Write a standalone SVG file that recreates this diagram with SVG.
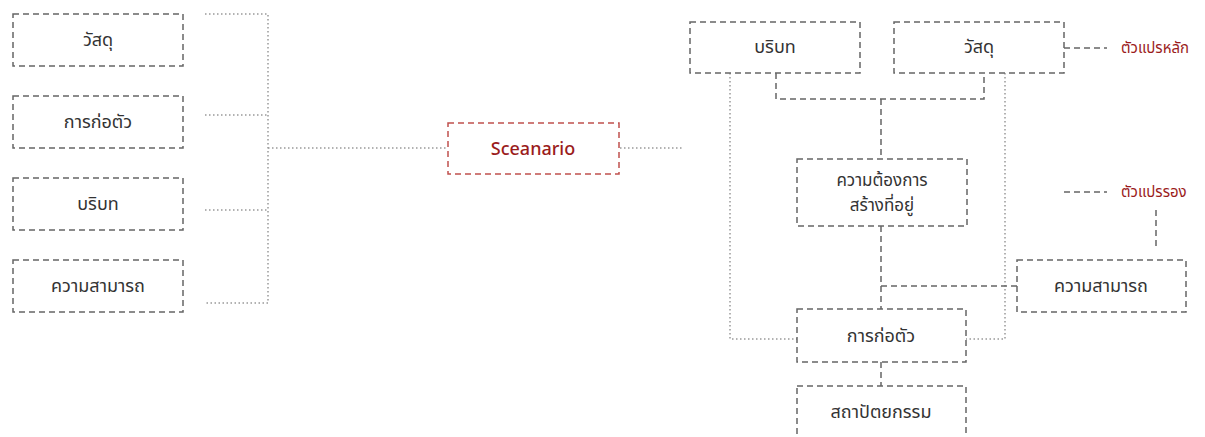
<svg xmlns="http://www.w3.org/2000/svg" width="1205" height="437" viewBox="0 0 1205 437">
<style>
.box{fill:#fff;stroke:#666;stroke-width:1.5;stroke-dasharray:6 4}
.rbox{fill:#fff;stroke:#c0504d;stroke-width:1.5;stroke-dasharray:6 4}
.t{font-family:"Noto Sans Thai","Noto Sans","DejaVu Sans",sans-serif;font-size:18px;fill:#333;text-anchor:middle;dominant-baseline:central}
.t2{font-size:17px}
.rt{font-family:"Noto Sans","DejaVu Sans",sans-serif;font-size:18px;font-weight:500;fill:#9b1c1c;text-anchor:middle;dominant-baseline:central}
.lt{font-family:"Noto Sans Thai","Noto Sans","DejaVu Sans",sans-serif;font-size:15px;fill:#9b1c1c;dominant-baseline:central}
.dot{fill:none;stroke:#999;stroke-width:1.5;stroke-dasharray:1.5 2.5}
.dash{fill:none;stroke:#666;stroke-width:1.5;stroke-dasharray:6 4}
</style>
<rect width="1205" height="437" fill="#fff"/>
<g id="connectors">
<polyline class="dot" points="205,14 268,14 268,303 205,303"/>
<line class="dot" x1="205" y1="115" x2="268" y2="115"/>
<line class="dot" x1="205" y1="210" x2="268" y2="210"/>
<line class="dot" x1="268" y1="148" x2="448" y2="148"/>
<line class="dot" x1="620" y1="148" x2="682" y2="148"/>
<polyline class="dash" points="776,73 776,99 984,99 984,73"/>
<line class="dash" x1="881" y1="99" x2="881" y2="159"/>
<polyline class="dot" points="730,73 730,339 797,339"/>
<polyline class="dot" points="1005,73 1005,339 966,339"/>
<line class="dash" x1="881" y1="226" x2="881" y2="309"/>
<line class="dash" x1="881" y1="286" x2="1017" y2="286"/>
<line class="dash" x1="881" y1="362" x2="881" y2="386"/>
<line class="dash" x1="1064" y1="48" x2="1107" y2="48"/>
<line class="dash" x1="1064" y1="192" x2="1107" y2="192"/>
<line class="dash" x1="1156" y1="210" x2="1156" y2="246"/>
</g>
<g id="n-l1"><rect class="box" x="13" y="14" width="170" height="52"/><text class="t" x="98" y="40">วัสดุ</text></g>
<g id="n-l2"><rect class="box" x="13" y="96" width="170" height="52"/><text class="t" x="98" y="122">การก่อตัว</text></g>
<g id="n-l3"><rect class="box" x="13" y="178" width="170" height="52"/><text class="t" x="98" y="204">บริบท</text></g>
<g id="n-l4"><rect class="box" x="13" y="260" width="170" height="52"/><text class="t" x="98" y="286">ความสามารถ</text></g>
<g id="n-scenario"><rect class="rbox" x="448" y="123" width="171" height="51"/><text class="rt" x="533" y="148">Sceanario</text></g>
<g id="n-context"><rect class="box" x="690" y="22" width="170" height="51"/><text class="t" x="775" y="47">บริบท</text></g>
<g id="n-material"><rect class="box" x="894" y="22" width="170" height="51"/><text class="t" x="979" y="47">วัสดุ</text></g>
<g id="n-need"><rect class="box" x="797" y="159" width="170" height="67"/><text class="t t2" x="882" y="181">ความต้องการ</text><text class="t t2" x="882" y="206">สร้างที่อยู่</text></g>
<g id="n-ability"><rect class="box" x="1017" y="260" width="169" height="52"/><text class="t" x="1101" y="286">ความสามารถ</text></g>
<g id="n-form"><rect class="box" x="797" y="309" width="169" height="53"/><text class="t" x="881" y="336">การก่อตัว</text></g>
<g id="n-arch"><rect class="box" x="797" y="386" width="169" height="60"/><text class="t" x="881" y="412">สถาปัตยกรรม</text></g>
<g id="legend"><text class="lt" x="1121" y="48">ตัวแปรหลัก</text><text class="lt" x="1121" y="192">ตัวแปรรอง</text></g>
</svg>
